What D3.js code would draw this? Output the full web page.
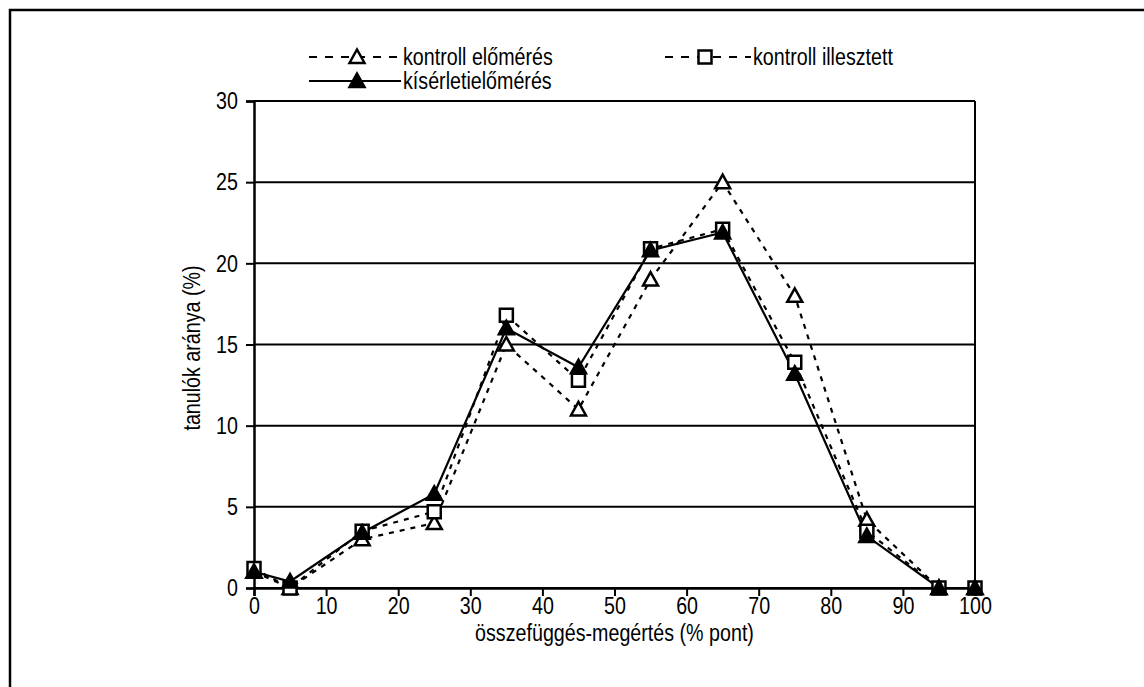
<!DOCTYPE html>
<html>
<head>
<meta charset="utf-8">
<script src="https://cdn.jsdelivr.net/npm/d3@7"></script>
<style>
  html, body { margin: 0; padding: 0; background: #fff; }
  svg { display: block; }
  text { font-family: "Liberation Sans", Arial, sans-serif; fill: #000; }
</style>
</head>
<body>
<svg id="chart" width="1144" height="687"></svg>
<script>
// Score bands (% pont) and share of students in each band (%)
const scores = [0, 5, 15, 25, 35, 45, 55, 65, 75, 85, 95, 100];
const kontrollElomeres = [1.0, 0, 3.0, 4.0, 15.0, 11.0, 19.0, 25.0, 18.0, 4.2, 0, 0];
const kontrollIllesztett = [1.2, 0, 3.5, 4.7, 16.8, 12.8, 20.9, 22.1, 13.9, 3.5, 0, 0];
const kiserletiElomeres = [1.0, 0.4, 3.4, 5.8, 16.0, 13.6, 20.8, 21.9, 13.2, 3.2, 0, 0];

const xTicks = [0, 10, 20, 30, 40, 50, 60, 70, 80, 90, 100];
const yTicks = [0, 5, 10, 15, 20, 25, 30];

const seriesNames = ["kontroll előmérés", "kontroll illesztett", "kísérletielőmérés"];

const svg = d3.select("#chart");
const W = 1144, H = 687;
const plot = { left: 254, right: 975, top: 101, bottom: 588 };
const FONT = "24px";
const NARROW = 0.82; // horizontal squeeze for a condensed look

const x = d3.scaleLinear().domain([0, 100]).range([plot.left, plot.right]);
const y = d3.scaleLinear().domain([0, 30]).range([plot.bottom, plot.top]);

// squeeze text horizontally around its own anchor point
function condense(sel) {
  sel.each(function () {
    const t = d3.select(this);
    const tx = +t.attr("x") || 0, ty = +t.attr("y") || 0;
    t.attr("x", 0).attr("y", 0)
      .attr("transform", `translate(${tx},${ty}) scale(${NARROW},1)`);
  });
}

// outer frame
svg.append("path")
  .attr("d", `M10,${H + 5} L10,10 L${W + 5},10`)
  .attr("fill", "none").attr("stroke", "#000").attr("stroke-width", 2.5);

// horizontal gridlines
svg.append("g").selectAll("line").data(yTicks).join("line")
  .attr("x1", plot.left).attr("x2", plot.right)
  .attr("y1", d => y(d)).attr("y2", d => y(d))
  .attr("stroke", "#000").attr("stroke-width", 2);

// right edge of plot area
svg.append("line")
  .attr("x1", plot.right).attr("x2", plot.right)
  .attr("y1", plot.top).attr("y2", plot.bottom)
  .attr("stroke", "#000").attr("stroke-width", 2);

// y axis
const yAxis = svg.append("g").attr("transform", `translate(${plot.left},0)`)
  .call(d3.axisLeft(y).tickValues(yTicks).tickSize(8).tickPadding(8).tickFormat(d3.format("d")));
yAxis.select(".domain").attr("stroke", "#000").attr("stroke-width", 2.5);
yAxis.selectAll(".tick line").attr("stroke", "#000").attr("stroke-width", 2);
yAxis.selectAll(".tick text").style("font-size", FONT).attr("fill", "#000").call(condense);

// x axis
const xAxis = svg.append("g").attr("transform", `translate(0,${plot.bottom})`)
  .call(d3.axisBottom(x).tickValues(xTicks).tickSize(8).tickPadding(1).tickFormat(d3.format("d")));
xAxis.select(".domain").attr("stroke", "#000").attr("stroke-width", 2.5);
xAxis.selectAll(".tick line").attr("stroke", "#000").attr("stroke-width", 2);
xAxis.selectAll(".tick text").style("font-size", FONT).attr("fill", "#000").call(condense);

// axis titles
svg.append("text")
  .attr("transform", `translate(${(plot.left + plot.right) / 2},641) scale(${NARROW},1)`)
  .attr("text-anchor", "middle").style("font-size", FONT)
  .text("összefüggés-megértés (% pont)");
svg.append("text")
  .attr("transform", `translate(200,348) rotate(-90) scale(${NARROW},1)`)
  .attr("text-anchor", "middle").style("font-size", FONT)
  .text("tanulók aránya (%)");

// marker shapes
const triPath = "M0,-7.5 L7.5,6 L-7.5,6 Z";
const sqPath = "M-6.5,-6.5 L6.5,-6.5 L6.5,6.5 L-6.5,6.5 Z";

const series = [
  { name: seriesNames[0], values: kontrollElomeres, dash: "5,6", marker: triPath, fill: "#fff" },
  { name: seriesNames[1], values: kontrollIllesztett, dash: "5,6", marker: sqPath, fill: "#fff" },
  { name: seriesNames[2], values: kiserletiElomeres, dash: null, marker: triPath, fill: "#000" }
];

const line = d3.line().x((d, i) => x(scores[i])).y(d => y(d));

const lines = svg.append("g");
series.forEach(s => {
  lines.append("path")
    .attr("d", line(s.values))
    .attr("fill", "none").attr("stroke", "#000").attr("stroke-width", 2.2)
    .attr("stroke-dasharray", s.dash);
});
const marks = svg.append("g");
series.forEach(s => {
  marks.append("g").selectAll("path").data(s.values).join("path")
    .attr("d", s.marker)
    .attr("transform", (d, i) => `translate(${x(scores[i])},${y(d)})`)
    .attr("fill", s.fill).attr("stroke", "#000").attr("stroke-width", 2.5);
});

// legend
const legendItems = [
  { s: series[0], lx: 309, lw: 92, mx: 357, ly: 57 },
  { s: series[1], lx: 665, lw: 86, mx: 705, ly: 57 },
  { s: series[2], lx: 309, lw: 92, mx: 357, ly: 81 }
];
const legend = svg.append("g");
legendItems.forEach(it => {
  legend.append("line")
    .attr("x1", it.lx).attr("x2", it.lx + it.lw)
    .attr("y1", it.ly).attr("y2", it.ly)
    .attr("stroke", "#000").attr("stroke-width", 2.2)
    .attr("stroke-dasharray", it.s.dash ? "8,8" : null);
  legend.append("path")
    .attr("d", it.s.marker)
    .attr("transform", `translate(${it.mx},${it.ly})`)
    .attr("fill", it.s.fill).attr("stroke", "#000").attr("stroke-width", 2.5);
  legend.append("text")
    .attr("transform", `translate(${it.lx + it.lw + 2},${it.ly + 8}) scale(${NARROW},1)`)
    .style("font-size", FONT)
    .text(it.s.name);
});
</script>
</body>
</html>
